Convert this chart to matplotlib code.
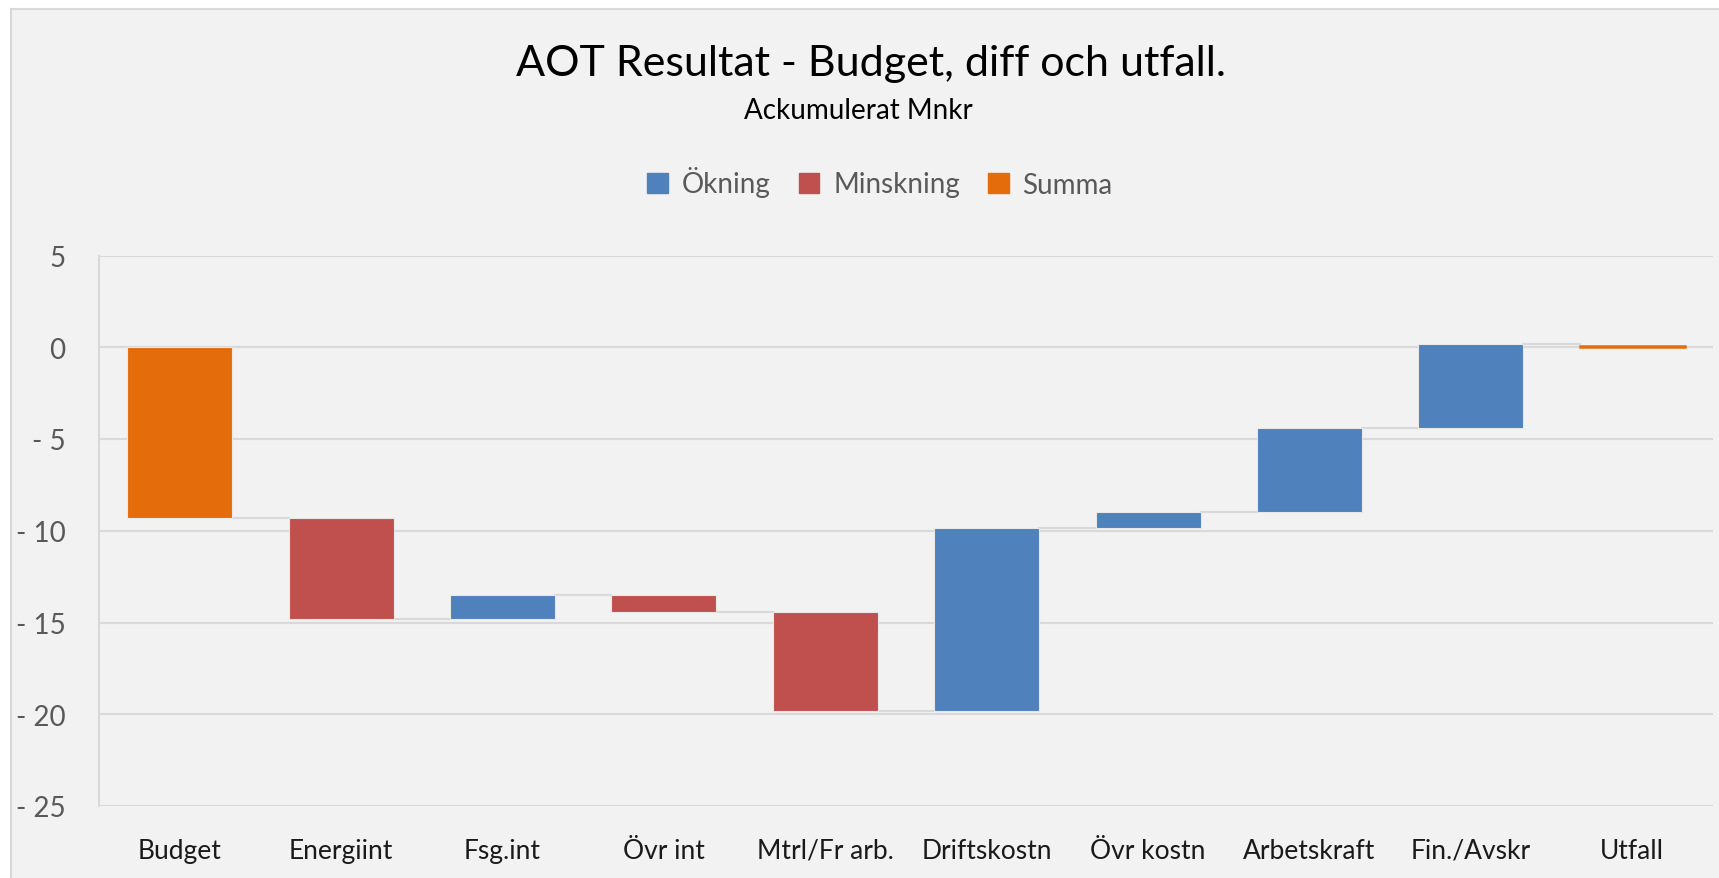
import matplotlib.pyplot as plt
import numpy as np
from matplotlib.patches import Patch, Rectangle
from matplotlib.ticker import FuncFormatter

plt.rcParams['font.family'] = ['Lato', 'DejaVu Sans']

# Data (Mnkr)
categories = ['Budget', 'Energiint', 'Fsg.int', 'Övr int', 'Mtrl/Fr arb.',
              'Driftskostn', 'Övr kostn', 'Arbetskraft', 'Fin./Avskr', 'Utfall']
budget = -9.3
changes = [-5.5, 1.3, -0.95, -5.4, 10.0, 0.85, 4.6, 4.6]
utfall = 0.05
yticks = [5, 0, -5, -10, -15, -20, -25]

blue = '#4F81BD'
red = '#C0504D'
orange = '#E46C0A'
grid_col = '#D9D9D9'

# Build waterfall segments
levels = np.concatenate([[budget], budget + np.cumsum(changes)])
starts = [0] + list(levels[:-1]) + [0]
ends = [budget] + list(levels[1:]) + [utfall]
colors = [orange] + [blue if c > 0 else red for c in changes] + [orange]

fig = plt.figure(figsize=(17.19, 8.79), dpi=100)
fig.patch.set_facecolor('white')
bg = Rectangle((11 / 1719, -0.02), 1.0, 1.02 - 10 / 879,
               transform=fig.transFigure, facecolor='#F2F2F2',
               edgecolor=grid_col, linewidth=1.5, zorder=-5)
fig.patches.append(bg)

ax = fig.add_axes([99 / 1719, 1 - 807 / 879, (1713 - 99) / 1719, (807 - 256.5) / 879])
ax.set_facecolor('none')

x = np.arange(len(categories))
width = 0.65
for i in range(len(categories)):
    lo, hi = min(starts[i], ends[i]), max(starts[i], ends[i])
    lw = 1.8 if i == len(categories) - 1 else 0.8
    ec = orange if i == len(categories) - 1 else '#E8E8E8'
    ax.bar(x[i], hi - lo, bottom=lo, width=width, color=colors[i],
           edgecolor=ec, linewidth=lw, zorder=3)

# connector lines
for i in range(len(categories) - 1):
    lvl = ends[i]
    ax.plot([x[i] + width / 2, x[i + 1] - width / 2], [lvl, lvl],
            color=grid_col, linewidth=1.5, zorder=2)

ax.set_xlim(-0.5, len(categories) - 0.5)
ax.set_ylim(-25, 5)
ax.set_yticks(yticks)
ax.yaxis.set_major_formatter(FuncFormatter(lambda v, p: f'- {abs(int(v))}' if v < 0 else f'{int(v)}'))
ax.set_xticks(x)
ax.set_xticklabels(categories)
ax.tick_params(axis='y', length=0, pad=24, labelsize=20, labelcolor='#595959')
ax.tick_params(axis='x', length=0, pad=23, labelsize=19, labelcolor='#1a1a1a')
ax.grid(axis='y', color=grid_col, linewidth=1.5, zorder=1)
ax.set_axisbelow(True)
for side in ['top', 'right', 'bottom']:
    ax.spines[side].set_visible(False)
ax.spines['left'].set_color(grid_col)
ax.spines['left'].set_linewidth(1.5)

fig.text(871 / 1719, 1 - 64 / 879, 'AOT Resultat - Budget, diff och utfall.',
         ha='center', va='center', fontsize=31, color='black')
fig.text(858 / 1719, 1 - 111 / 879, 'Ackumulerat Mnkr',
         ha='center', va='center', fontsize=20, color='black')

handles = [Patch(color=blue, label='Ökning'), Patch(color=red, label='Minskning'),
           Patch(color=orange, label='Summa')]
leg = fig.legend(handles=handles, loc='center', bbox_to_anchor=(880 / 1719, 1 - 183 / 879),
                 ncol=3, frameon=False, fontsize=20, handlelength=0.75, handleheight=0.75,
                 handletextpad=0.5, columnspacing=1.0)
for t in leg.get_texts():
    t.set_color('#595959')

fig.savefig('out.png', dpi=100, facecolor=fig.get_facecolor())
